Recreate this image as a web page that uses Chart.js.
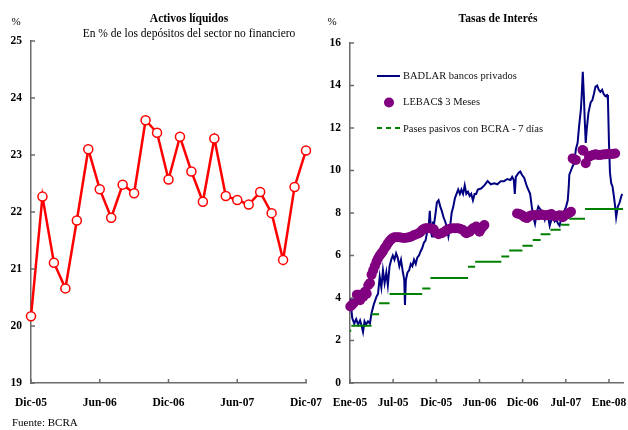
<!DOCTYPE html>
<html>
<head>
<meta charset="utf-8">
<script src="https://cdn.jsdelivr.net/npm/chart.js@4/dist/chart.umd.min.js"></script>
<style>
  html, body { margin: 0; padding: 0; background: #fff; }
  #wrap { position: relative; width: 628px; height: 430px; overflow: hidden; }
  #c1 { position: absolute; left: 0; top: 0; }
  #c2 { position: absolute; left: 322px; top: 0; }
</style>
</head>
<body>
<div id="wrap">
  <canvas id="c1" width="326" height="430"></canvas>
  <canvas id="c2" width="306" height="430"></canvas>
</div>
<script>
// Left panel: liquid assets, monthly Dic-05 .. Dic-07
const liquidos = [20.17, 22.27, 21.11, 20.66, 21.85, 23.1, 22.4, 21.9, 22.48, 22.33, 23.61, 23.39,
  22.57, 23.32, 22.71, 22.18, 23.29, 22.28, 22.21, 22.13, 22.35, 21.98, 21.16, 22.44, 23.08];
const leftTickPos = [0, 6, 12, 18, 24];
const leftTickLabels = ['Dic-05', 'Jun-06', 'Dic-06', 'Jun-07', 'Dic-07'];

// Right panel: x in months from Ene-05
const rightTickPos = [0, 6, 12, 18, 24, 30, 36];
const rightTickLabels = ['Ene-05', 'Jul-05', 'Dic-05', 'Jun-06', 'Dic-06', 'Jul-07', 'Ene-08'];

const badlarX = [0.04, 0.31, 0.59, 0.86, 1.13, 1.40, 1.61, 1.81, 2.02, 2.22, 2.50, 2.77, 3.00, 3.31, 3.68,
  3.90, 4.13, 4.36, 4.58, 4.81, 5.05, 5.26, 5.50, 5.73, 5.95, 6.18, 6.41, 6.63, 6.86, 7.09, 7.31, 7.54,
  7.64, 7.77, 7.99, 8.22, 8.45, 8.67, 8.90, 9.14, 9.35, 9.59, 9.82, 10.04, 10.27, 10.50, 10.72, 10.95,
  11.09, 11.26, 11.40, 11.52, 11.63, 11.86, 12.08, 12.31, 12.55, 12.76, 13.00, 13.23, 13.45, 13.68,
  13.91, 14.13, 14.36, 14.59, 14.81, 15.04, 15.27, 15.49, 15.72, 15.95, 16.17, 16.40, 16.64, 16.85,
  17.09, 17.32, 17.54, 17.77, 18.22, 18.68, 19.13, 19.58, 20.05, 20.50, 20.95, 21.41, 21.86, 22.31,
  22.54, 22.77, 22.91, 23.05, 23.45, 23.67, 23.90, 24.22, 24.59, 25.04, 25.27, 25.50, 25.72, 25.95,
  26.18, 26.40, 26.63, 26.86, 27.08, 27.31, 27.55, 27.76, 28.00, 28.23, 28.45, 28.68, 28.91, 29.13,
  29.36, 29.59, 29.81, 30.04, 30.27, 30.41, 30.49, 30.72, 30.95, 31.17, 31.40, 31.64, 31.85, 32.09,
  32.22, 32.36, 32.50, 32.63, 32.77, 32.90, 33.14, 33.45, 33.68, 33.90, 34.13, 34.36, 34.58, 34.81,
  35.05, 35.26, 35.50, 35.73, 35.86, 36.00, 36.14, 36.31, 36.49, 36.68, 36.86, 37.00, 37.23, 37.44,
  37.72, 37.85];
const badlarY = [4.0, 3.06, 2.8, 3.0, 2.75, 2.95, 2.7, 2.4, 2.9, 2.75, 2.9, 2.8, 3.3, 3.7, 4.06,
  4.2, 5.0, 4.5, 5.3, 4.7, 5.2, 4.6, 5.5, 5.8, 6.0, 5.8, 6.1, 5.9, 5.5, 5.8, 5.3, 4.85,
  3.67, 4.85, 5.2, 5.3, 5.6, 5.5, 5.8, 5.6, 5.9, 6.0, 6.2, 6.35, 6.6, 6.7, 7.1, 7.4,
  8.1, 7.1, 6.9, 7.6, 7.35, 7.9, 8.5, 8.6, 8.3, 8.1, 7.8, 7.6, 7.35, 6.9,
  7.35, 8.0, 8.3, 8.7, 8.9, 9.1, 8.9, 9.1, 8.9, 9.3, 8.9, 9.0, 8.8, 8.9,
  8.6, 8.9, 8.9, 9.1, 9.15, 9.3, 9.5, 9.35, 9.4, 9.35, 9.5, 9.5, 9.6, 9.55,
  9.7, 9.55, 8.9, 9.7, 9.9, 9.95, 9.8, 9.65, 9.25, 8.9, 8.3, 7.8, 7.5, 8.0,
  8.3, 8.2, 8.1, 8.0, 7.7, 8.0, 7.8, 7.4, 7.7, 7.8, 7.6, 7.7, 7.5, 7.4,
  7.75, 8.0, 8.1, 8.3, 8.6, 9.25, 9.8, 10.0, 10.2, 10.35, 11.0, 11.3, 12.1, 12.85,
  13.6, 14.65, 13.6, 12.4, 11.3, 11.9, 12.7, 13.2, 13.3, 13.6, 13.95, 14.0, 13.8, 13.7,
  13.8, 13.6, 13.5, 13.55, 13.3, 11.3, 9.9, 9.4, 9.25, 8.8, 8.3, 7.8, 8.3, 8.45,
  8.8, 8.9];

const lebacX = [0.04, 0.27, 0.49, 0.95, 1.17, 1.40, 1.85, 2.09, 2.32, 2.54, 2.77, 3.00, 3.22, 3.45, 3.68,
  3.90, 4.13, 4.36, 4.58, 4.81, 5.05, 5.26, 5.50, 5.73, 5.95, 6.18, 6.52, 6.86, 7.20, 7.54, 7.88, 8.22,
  8.56, 8.90, 9.25, 9.59, 9.82, 10.04, 10.27, 10.50, 10.81, 11.18, 11.43, 11.63,
  12.04, 12.31, 12.76, 13.13, 13.45, 13.81, 14.13, 14.59, 15.04, 15.38, 15.72, 16.00, 16.17, 16.40,
  16.64, 16.85, 17.09, 17.54, 17.77, 18.00, 18.22, 18.45, 18.68,
  23.22, 23.56, 23.90, 24.25, 24.59, 24.93, 25.27, 25.61, 25.95, 26.29, 26.63, 26.97, 27.31, 27.65,
  28.00, 28.27, 28.68, 29.13, 29.59, 29.81, 30.04, 30.27, 30.49, 30.72,
  30.95, 31.17, 31.40, 32.32, 32.45, 32.77, 33.22, 33.45, 33.79, 34.13, 34.47, 34.81, 35.15, 35.50,
  35.84, 36.18, 36.52, 36.86];
const lebacY = [3.6, 3.67, 3.75, 4.15, 4.15, 3.9, 4.06, 4.3, 4.2, 4.6, 4.7, 5.1, 5.3, 5.5, 5.7,
  5.87, 6.0, 6.1, 6.2, 6.34, 6.45, 6.57, 6.68, 6.76, 6.82, 6.86, 6.86, 6.86, 6.84, 6.82, 6.84, 6.86,
  6.9, 6.96, 7.0, 7.05, 7.12, 7.2, 7.25, 7.28, 7.28, 7.28, 7.25, 7.23,
  7.05, 7.0, 7.05, 7.12, 7.2, 7.25, 7.28, 7.28, 7.28, 7.25, 7.2, 7.1, 7.05, 7.08,
  7.12, 7.2, 7.28, 7.36, 7.25, 7.12, 7.25, 7.36, 7.43,
  7.98, 7.95, 7.9, 7.8, 7.76, 7.85, 7.9, 7.9, 7.9, 7.9, 7.93, 7.9, 7.9, 7.92,
  7.95, 7.86, 7.85, 7.9, 7.8, 7.9, 7.92, 7.98, 8.0, 8.06,
  10.57, 10.52, 10.5, 10.96, 10.93, 10.34, 10.65, 10.7, 10.73, 10.76, 10.73, 10.73, 10.75, 10.76,
  10.78, 10.78, 10.78, 10.8];

const pasesStart = [0, 0.18, 3.00, 4.04, 5.50, 10.04, 11.18, 16.40, 17.40, 21.04, 22.13, 23.97, 25.40,
  26.50, 27.86, 29.29, 30.49, 32.67];
const pasesEnd = [0.18, 3.00, 4.04, 5.50, 10.04, 11.18, 16.40, 17.40, 21.04, 22.13, 23.97, 25.40, 26.50,
  27.86, 29.29, 30.49, 32.67, 37.95];
const pasesRate = [2.46, 2.7, 3.23, 3.75, 4.19, 4.45, 4.94, 5.47, 5.71, 5.95, 6.23, 6.46, 6.73,
  7.0, 7.21, 7.45, 7.73, 8.19];

const SERIF = '"Liberation Serif", "Times New Roman", serif';
const AXIS = '#6b6b6b';

const textPlugin = {
  id: 'texts',
  afterDraw(chart, args, opts) {
    const ctx = chart.ctx;
    ctx.save();
    ctx.textBaseline = 'middle';
    ctx.fillStyle = '#000';
    for (const t of opts.items || []) {
      ctx.font = t.font;
      ctx.textAlign = t.align || 'left';
      ctx.fillText(t.text, t.x, t.y);
    }
    ctx.restore();
  }
};

// short tick marks pointing into the plot area
const innerTicks = {
  id: 'innerTicks',
  afterDatasetsDraw(chart) {
    const { ctx, chartArea, scales } = chart;
    ctx.save();
    ctx.strokeStyle = AXIS;
    ctx.lineWidth = 1.5;
    ctx.beginPath();
    scales.x.ticks.forEach((t) => {
      const px = scales.x.getPixelForValue(t.value);
      ctx.moveTo(px, chartArea.bottom);
      ctx.lineTo(px, chartArea.bottom - 4);
    });
    scales.y.ticks.forEach((t) => {
      const py = scales.y.getPixelForValue(t.value);
      ctx.moveTo(chartArea.left, py);
      ctx.lineTo(chartArea.left + 4, py);
    });
    ctx.stroke();
    ctx.restore();
  }
};

// legend drawn inside the plot area, top-left
const innerLegend = {
  id: 'innerLegend',
  afterDraw(chart) {
    const ctx = chart.ctx;
    const ds = chart.data.datasets;
    ctx.save();
    ctx.font = '10.5px ' + SERIF;
    ctx.textBaseline = 'middle';
    ctx.fillStyle = '#111';
    // BADLAR
    ctx.strokeStyle = ds[0].borderColor;
    ctx.lineWidth = 2;
    ctx.beginPath(); ctx.moveTo(55, 76); ctx.lineTo(78, 76); ctx.stroke();
    ctx.fillText(ds[0].label, 81, 76.5);
    // LEBAC
    ctx.fillStyle = ds[1].backgroundColor;
    ctx.beginPath(); ctx.arc(67, 102.5, 5, 0, Math.PI * 2); ctx.fill();
    ctx.fillStyle = '#111';
    ctx.fillText(ds[1].label, 81, 102.5);
    // Pases
    ctx.strokeStyle = ds[2].borderColor;
    ctx.setLineDash([5, 4]);
    ctx.beginPath(); ctx.moveTo(55, 128); ctx.lineTo(78, 128); ctx.stroke();
    ctx.setLineDash([]);
    ctx.fillText(ds[2].label, 81, 129);
    ctx.restore();
  }
};

function fixedTicks(pos) {
  return (scale) => { scale.ticks = pos.map((v) => ({ value: v })); };
}

const tickFont = { family: SERIF, size: 11.5, weight: 'bold' };
const noGrid = { display: false, drawTicks: false, tickLength: 0 };

new Chart(document.getElementById('c1'), {
  type: 'line',
  data: {
    datasets: [{
      data: liquidos.map((v, i) => ({ x: i, y: v })),
      borderColor: '#ff0000',
      borderWidth: 2.5,
      pointRadius: 4.5,
      pointBackgroundColor: '#ffffff',
      pointBorderColor: '#ff0000',
      pointBorderWidth: 1.5,
      tension: 0,
      clip: false,
    }],
  },
  options: {
    responsive: false,
    animation: false,
    layout: { padding: { top: 41, right: 20, left: 0, bottom: 0 } },
    plugins: {
      legend: { display: false },
      tooltip: { enabled: false },
      texts: {
        items: [
          { text: 'Activos líquidos', x: 189, y: 19, align: 'center', font: 'bold 11.5px ' + SERIF },
          { text: 'En % de los depósitos del sector no financiero', x: 189, y: 34, align: 'center', font: '11.5px ' + SERIF },
          { text: '%', x: 16, y: 22, align: 'center', font: '11px ' + SERIF },
          { text: 'Fuente: BCRA', x: 12, y: 423, align: 'left', font: '11px ' + SERIF },
        ],
      },
    },
    scales: {
      x: {
        type: 'linear', min: 0, max: 24,
        afterBuildTicks: fixedTicks(leftTickPos),
        afterFit: (s) => { s.height = 47; s.paddingLeft = 0; s.paddingRight = 0; },
        ticks: {
          font: tickFont, color: '#000', padding: 13, maxRotation: 0, autoSkip: false,
          callback: (v) => leftTickLabels[leftTickPos.indexOf(v)],
        },
        grid: noGrid,
        border: { display: true, color: AXIS, width: 1.5 },
      },
      y: {
        min: 19, max: 25,
        afterFit: (s) => { s.width = 31; s.paddingTop = 0; s.paddingBottom = 0; },
        ticks: { stepSize: 1, font: tickFont, color: '#000', padding: 9 },
        grid: noGrid,
        border: { display: true, color: AXIS, width: 1.5 },
      },
    },
  },
  plugins: [textPlugin, innerTicks],
});

const pasesData = [];
pasesRate.forEach((r, i) => {
  pasesData.push({ x: pasesStart[i], y: r }, { x: pasesEnd[i], y: r }, { x: pasesEnd[i], y: null });
});

new Chart(document.getElementById('c2'), {
  type: 'line',
  data: {
    datasets: [
      {
        label: 'BADLAR bancos privados',
        data: badlarX.map((x, i) => ({ x, y: badlarY[i] })),
        borderColor: '#000080',
        borderWidth: 2,
        pointRadius: 0,
        tension: 0,
        order: 3,
      },
      {
        type: 'scatter',
        label: 'LEBAC$ 3 Meses',
        data: lebacX.map((x, i) => ({ x, y: lebacY[i] })),
        backgroundColor: '#800080',
        borderColor: '#800080',
        borderWidth: 0,
        pointRadius: 5,
        order: 2,
        clip: false,
      },
      {
        label: 'Pases pasivos con BCRA - 7 días',
        data: pasesData,
        borderColor: '#008000',
        borderWidth: 2,
        pointRadius: 0,
        spanGaps: false,
        order: 1,
      },
    ],
  },
  options: {
    responsive: false,
    animation: false,
    layout: { padding: { top: 43, right: 0, left: 0, bottom: 0 } },
    plugins: {
      legend: { display: false },
      tooltip: { enabled: false },
      texts: {
        items: [
          { text: 'Tasas de Interés', x: 176, y: 19, align: 'center', font: 'bold 11.5px ' + SERIF },
          { text: '%', x: 10, y: 22, align: 'center', font: '11px ' + SERIF },
        ],
      },
    },
    scales: {
      x: {
        type: 'linear', min: 0, max: 37.95,
        afterBuildTicks: fixedTicks(rightTickPos),
        afterFit: (s) => { s.height = 47; s.paddingLeft = 0; s.paddingRight = 0; },
        ticks: {
          font: tickFont, color: '#000', padding: 13, maxRotation: 0, autoSkip: false,
          callback: (v) => rightTickLabels[rightTickPos.indexOf(v)],
        },
        grid: noGrid,
        border: { display: true, color: AXIS, width: 1.5 },
      },
      y: {
        min: 0, max: 16,
        afterFit: (s) => { s.width = 28; s.paddingTop = 0; s.paddingBottom = 0; },
        ticks: { stepSize: 2, font: tickFont, color: '#000', padding: 9 },
        grid: noGrid,
        border: { display: true, color: AXIS, width: 1.5 },
      },
    },
  },
  plugins: [textPlugin, innerTicks, innerLegend],
});
</script>
</body>
</html>
